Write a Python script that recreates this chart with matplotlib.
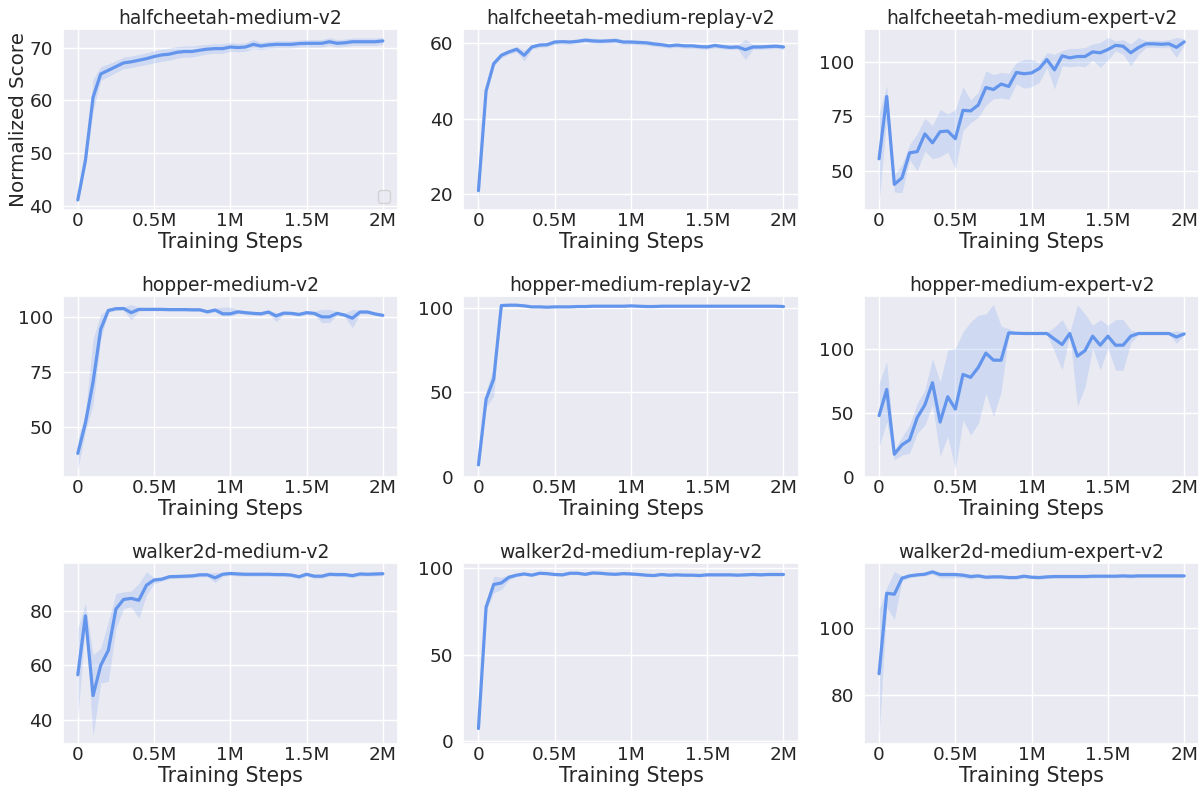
import numpy as np
import matplotlib
matplotlib.use("Agg")
import matplotlib.pyplot as plt
from matplotlib.ticker import MaxNLocator
import seaborn as sns

steps = np.arange(41) * 50000
xticks = [0, 500000, 1000000, 1500000, 2000000]
xticklabels = ["0", "0.5M", "1M", "1.5M", "2M"]

titles = ["halfcheetah-medium-v2", "halfcheetah-medium-replay-v2", "halfcheetah-medium-expert-v2",
          "hopper-medium-v2", "hopper-medium-replay-v2", "hopper-medium-expert-v2",
          "walker2d-medium-v2", "walker2d-medium-replay-v2", "walker2d-medium-expert-v2"]

hcm_mean = [41.2, 48.7, 60.6, 65.0, 65.7, 66.4, 67.1, 67.3, 67.6, 67.9, 68.3, 68.6, 68.75, 69.1, 69.25, 69.25, 69.5, 69.7, 69.8, 69.8, 70.1, 70.0, 70.1, 70.6, 70.3, 70.5, 70.6, 70.6, 70.6, 70.75, 70.8, 70.8, 70.8, 71.1, 70.8, 70.9, 71.1, 71.1, 71.1, 71.1, 71.25]
hcm_lo = [40.8, 47.5, 58.0, 63.8, 64.5, 65.3, 66.0, 66.2, 66.5, 66.8, 67.1, 67.4, 67.6, 68.0, 68.2, 68.2, 68.5, 68.8, 68.9, 68.9, 69.3, 69.2, 69.3, 69.8, 69.6, 69.8, 69.9, 69.9, 69.9, 70.1, 70.1, 70.1, 70.1, 70.4, 70.1, 70.2, 70.4, 70.4, 70.4, 70.4, 70.6]
hcm_hi = [41.6, 50.0, 64.0, 66.4, 66.9, 67.5, 68.2, 68.4, 68.7, 69.0, 69.4, 69.7, 69.9, 70.2, 70.3, 70.3, 70.5, 70.6, 70.7, 70.7, 70.9, 70.8, 70.9, 71.5, 71.0, 71.2, 71.3, 71.3, 71.3, 71.4, 71.5, 71.5, 71.5, 71.9, 71.5, 71.6, 71.8, 71.8, 71.8, 71.8, 71.9]

hcmr_mean = [21.0, 47.3, 54.5, 56.7, 57.6, 58.3, 56.7, 58.9, 59.4, 59.5, 60.2, 60.3, 60.2, 60.4, 60.7, 60.5, 60.4, 60.5, 60.6, 60.2, 60.2, 60.1, 60.0, 59.7, 59.5, 59.2, 59.4, 59.2, 59.2, 59.0, 58.9, 59.3, 59.0, 58.8, 58.9, 58.2, 58.9, 58.9, 59.0, 59.1, 58.9]
hcmr_lo = [18.0, 46.5, 53.8, 56.0, 57.0, 57.6, 55.2, 58.3, 58.8, 58.9, 59.6, 59.7, 59.6, 59.8, 60.0, 59.8, 59.7, 59.8, 59.9, 59.6, 59.6, 59.5, 59.4, 59.1, 58.9, 58.6, 58.8, 58.6, 58.6, 58.4, 58.3, 58.7, 58.4, 58.2, 58.3, 55.6, 58.3, 58.3, 58.4, 58.5, 58.3]
hcmr_hi = [22.0, 48.0, 55.2, 57.4, 58.2, 59.0, 58.0, 59.5, 60.0, 60.1, 60.8, 60.9, 60.8, 61.0, 61.4, 61.2, 61.1, 61.2, 61.3, 60.8, 60.8, 60.7, 60.6, 60.3, 60.1, 59.8, 60.0, 59.8, 59.8, 59.6, 59.5, 59.9, 59.6, 59.4, 59.5, 60.9, 59.5, 59.5, 59.6, 59.7, 59.5]

hcme_mean = [55.5, 84.0, 43.8, 46.8, 58.2, 58.8, 66.9, 62.8, 67.9, 68.2, 64.7, 77.7, 77.4, 80.1, 88.1, 87.2, 89.7, 88.6, 95.0, 94.4, 94.8, 96.8, 100.9, 96.2, 102.6, 101.7, 102.3, 102.3, 104.4, 104.0, 105.5, 107.4, 107.0, 104.0, 106.4, 108.1, 108.1, 107.9, 108.1, 106.5, 109.0]
hcme_lo = [35.7, 74.0, 40.3, 40.0, 55.0, 50.0, 59.0, 55.5, 56.5, 58.5, 51.0, 68.4, 72.0, 74.5, 80.0, 83.0, 83.3, 82.7, 89.7, 87.8, 88.5, 90.4, 97.3, 87.4, 98.0, 97.6, 98.0, 97.6, 100.6, 97.3, 100.6, 104.9, 103.3, 98.0, 103.3, 106.4, 106.5, 106.3, 106.5, 102.0, 107.5]
hcme_hi = [76.0, 89.0, 48.0, 53.0, 62.0, 67.0, 74.0, 70.7, 78.0, 76.0, 78.0, 88.4, 82.4, 86.0, 95.7, 94.0, 95.0, 94.5, 99.5, 101.0, 101.0, 99.5, 104.0, 103.3, 105.0, 106.0, 106.0, 106.4, 108.0, 108.7, 111.0, 109.4, 110.0, 108.0, 111.0, 109.5, 109.8, 109.6, 110.0, 111.0, 110.5]

hm_mean = [38.0, 51.8, 70.4, 94.3, 102.8, 103.6, 103.7, 101.8, 103.3, 103.3, 103.3, 103.3, 103.2, 103.2, 103.2, 103.1, 103.1, 102.2, 103.0, 101.3, 101.3, 102.2, 101.8, 101.5, 101.3, 102.1, 100.3, 101.6, 101.5, 101.0, 101.8, 101.5, 99.9, 99.9, 101.5, 100.7, 99.3, 102.1, 102.1, 101.2, 100.6]
hm_lo = [30.9, 48.0, 60.0, 89.9, 102.0, 102.8, 102.9, 98.4, 102.5, 102.6, 102.6, 102.6, 102.5, 102.5, 102.5, 102.4, 102.4, 101.4, 102.2, 100.3, 100.3, 101.4, 101.0, 100.7, 100.5, 101.3, 97.8, 100.8, 100.7, 100.2, 101.0, 100.7, 97.3, 97.3, 100.7, 99.9, 95.0, 101.3, 101.3, 100.4, 99.8]
hm_hi = [44.3, 56.3, 89.9, 101.0, 103.6, 104.4, 104.5, 105.5, 104.1, 104.0, 104.0, 104.0, 103.9, 103.9, 103.9, 103.8, 103.8, 103.0, 103.8, 104.3, 104.3, 103.0, 102.6, 102.3, 102.1, 102.9, 101.8, 102.4, 102.3, 101.8, 102.6, 102.3, 103.3, 103.3, 102.3, 101.5, 103.3, 102.9, 102.9, 102.0, 101.4]

hmr_mean = [7.0, 46.0, 58.0, 101.6, 101.8, 101.8, 101.4, 100.8, 100.8, 100.6, 100.8, 100.8, 100.8, 101.0, 101.0, 101.2, 101.2, 101.2, 101.2, 101.2, 101.4, 101.2, 101.0, 101.0, 101.2, 101.2, 101.2, 101.2, 101.2, 101.2, 101.2, 101.2, 101.2, 101.2, 101.2, 101.2, 101.2, 101.2, 101.2, 101.2, 101.0]
hmr_lo = [4.5, 41.0, 48.0, 101.2, 101.4, 101.4, 101.0, 100.4, 100.4, 100.2, 100.4, 100.4, 100.4, 100.6, 100.6, 100.8, 100.8, 100.8, 100.8, 100.8, 101.0, 100.8, 100.6, 100.6, 100.8, 100.8, 100.8, 100.8, 100.8, 100.8, 100.8, 100.8, 100.8, 100.8, 100.8, 100.8, 100.8, 100.8, 100.8, 100.8, 100.6]
hmr_hi = [9.0, 51.0, 65.0, 102.0, 102.2, 102.2, 101.8, 101.2, 101.2, 101.0, 101.2, 101.2, 101.2, 101.4, 101.4, 101.6, 101.6, 101.6, 101.6, 101.6, 101.8, 101.6, 101.4, 101.4, 101.6, 101.6, 101.6, 101.6, 101.6, 101.6, 101.6, 101.6, 101.6, 101.6, 101.6, 101.6, 101.6, 101.6, 101.6, 101.6, 101.4]

hme_mean = [47.7, 68.1, 17.6, 24.9, 28.8, 46.1, 56.0, 73.3, 42.7, 62.4, 52.8, 79.8, 77.5, 85.2, 96.4, 90.9, 90.9, 112.2, 111.9, 111.7, 111.7, 111.7, 111.7, 107.3, 103.1, 111.7, 94.0, 98.4, 109.6, 102.6, 109.6, 102.6, 102.6, 109.6, 111.7, 111.7, 111.7, 111.7, 111.7, 109.0, 111.4]
hme_lo = [23.6, 43.0, 13.2, 17.0, 18.4, 34.0, 40.4, 56.0, 16.3, 31.3, 6.0, 44.3, 32.6, 41.5, 65.0, 47.0, 66.3, 111.0, 111.0, 111.0, 111.0, 111.0, 111.0, 97.4, 83.2, 111.0, 55.0, 70.0, 100.5, 83.2, 100.5, 83.2, 83.2, 104.5, 111.0, 111.0, 111.0, 111.0, 111.0, 104.0, 110.5]
hme_hi = [72.8, 89.6, 21.0, 31.0, 40.4, 57.3, 67.6, 92.2, 74.0, 98.7, 100.0, 113.0, 120.7, 126.0, 127.0, 134.3, 117.4, 115.5, 112.5, 112.5, 112.5, 112.5, 112.5, 116.8, 122.5, 112.5, 134.0, 127.0, 118.0, 122.5, 118.0, 122.5, 122.5, 114.5, 112.5, 112.5, 112.5, 112.5, 112.5, 114.0, 112.3]

wm_mean = [56.6, 78.1, 49.0, 60.0, 65.5, 80.6, 84.1, 84.5, 83.8, 89.3, 91.2, 91.5, 92.4, 92.5, 92.6, 92.7, 93.1, 93.1, 92.0, 93.3, 93.6, 93.4, 93.3, 93.3, 93.3, 93.3, 93.2, 93.2, 93.0, 92.4, 93.3, 92.6, 92.6, 93.3, 93.2, 93.2, 92.8, 93.4, 93.3, 93.4, 93.5]
wm_lo = [40.8, 74.8, 34.2, 53.6, 54.2, 73.6, 80.8, 81.4, 77.2, 85.7, 89.9, 90.8, 91.7, 91.8, 91.9, 92.0, 92.4, 92.4, 90.3, 92.6, 92.9, 92.7, 92.6, 92.6, 92.6, 92.6, 92.5, 92.5, 92.3, 91.7, 92.6, 91.9, 91.9, 92.6, 92.5, 92.5, 92.1, 92.7, 92.6, 92.7, 92.8]
wm_hi = [73.6, 82.7, 63.9, 66.3, 76.0, 86.3, 86.9, 87.2, 89.9, 94.2, 92.1, 92.2, 93.1, 93.2, 93.3, 93.4, 93.8, 93.8, 93.9, 94.0, 94.3, 94.1, 94.0, 94.0, 94.0, 94.0, 93.9, 93.9, 93.7, 93.1, 94.0, 93.3, 93.3, 94.0, 93.9, 93.9, 93.5, 94.1, 94.0, 94.1, 94.2]

wmr_mean = [7.3, 77.3, 90.4, 91.3, 94.6, 95.8, 96.5, 95.8, 96.9, 96.7, 96.2, 96.0, 96.9, 96.9, 96.3, 97.1, 96.9, 96.5, 96.3, 96.7, 96.5, 96.2, 95.8, 95.6, 96.2, 95.8, 96.0, 95.8, 95.8, 95.6, 96.0, 96.0, 96.0, 96.0, 95.8, 96.0, 96.2, 96.0, 96.2, 96.2, 96.2]
wmr_lo = [2.9, 75.0, 85.6, 87.5, 93.1, 95.0, 95.7, 95.0, 96.1, 95.9, 95.4, 95.2, 96.1, 96.1, 95.5, 96.3, 96.1, 95.7, 95.5, 95.9, 95.7, 95.4, 95.0, 94.8, 95.4, 95.0, 95.2, 95.0, 95.0, 94.8, 95.2, 95.2, 95.2, 95.2, 95.0, 95.2, 95.4, 95.2, 95.4, 95.4, 95.4]
wmr_hi = [10.6, 79.8, 95.2, 94.6, 96.1, 96.6, 97.3, 96.6, 97.7, 97.5, 97.0, 96.8, 97.7, 97.7, 97.1, 97.9, 97.7, 97.3, 97.1, 97.5, 97.3, 97.0, 96.6, 96.4, 97.0, 96.6, 96.8, 96.6, 96.6, 96.4, 96.8, 96.8, 96.8, 96.8, 96.6, 96.8, 97.0, 96.8, 97.0, 97.0, 97.0]

wme_mean = [86.4, 110.5, 110.2, 115.0, 115.7, 116.0, 116.2, 116.9, 116.1, 116.1, 116.1, 115.9, 115.5, 115.7, 115.3, 115.4, 115.4, 115.2, 115.2, 115.6, 115.3, 115.2, 115.4, 115.5, 115.5, 115.5, 115.5, 115.5, 115.6, 115.6, 115.6, 115.6, 115.7, 115.6, 115.7, 115.7, 115.7, 115.7, 115.7, 115.7, 115.7]
wme_lo = [67.7, 106.2, 102.7, 114.2, 115.2, 115.5, 115.7, 116.3, 115.1, 115.1, 115.1, 115.2, 114.8, 115.2, 114.8, 114.9, 114.9, 114.7, 114.7, 115.1, 114.8, 114.7, 114.9, 115.0, 115.0, 115.0, 115.0, 115.0, 115.1, 115.1, 115.1, 115.1, 115.2, 115.1, 115.2, 115.2, 115.2, 115.2, 115.2, 115.2, 115.2]
wme_hi = [105.7, 112.2, 117.0, 115.7, 116.2, 116.5, 116.7, 116.9, 116.8, 116.8, 116.8, 116.6, 116.2, 116.2, 115.8, 115.9, 115.9, 115.7, 115.7, 116.1, 115.8, 115.7, 115.9, 116.0, 116.0, 116.0, 116.0, 116.0, 116.1, 116.1, 116.1, 116.1, 116.2, 116.1, 116.2, 116.2, 116.2, 116.2, 116.2, 116.2, 116.2]

series = [(hcm_mean, hcm_lo, hcm_hi), (hcmr_mean, hcmr_lo, hcmr_hi), (hcme_mean, hcme_lo, hcme_hi),
          (hm_mean, hm_lo, hm_hi), (hmr_mean, hmr_lo, hmr_hi), (hme_mean, hme_lo, hme_hi),
          (wm_mean, wm_lo, wm_hi), (wmr_mean, wmr_lo, wmr_hi), (wme_mean, wme_lo, wme_hi)]

sns.set_theme(style="darkgrid")
plt.rcParams["font.family"] = ["DejaVu Sans"]
color = "#6495ED"

fig, axes = plt.subplots(3, 3, figsize=(12.03, 7.91), dpi=100)
fig.subplots_adjust(left=0.052, right=0.997, top=0.963, bottom=0.059, wspace=0.194, hspace=0.475)

for i, ax in enumerate(axes.flat):
    mean, lo, hi = series[i]
    ax.fill_between(steps, lo, hi, color=color, alpha=0.2, linewidth=0)
    ax.plot(steps, mean, color=color, linewidth=2.3)
    ax.set_xticks(xticks)
    ax.set_xticklabels(xticklabels)
    ax.yaxis.set_major_locator(MaxNLocator(nbins=4, steps=[1, 2, 2.5, 5, 10]))
    ax.tick_params(axis="x", labelsize=13.3, length=0, pad=1.5)
    ax.tick_params(axis="y", labelsize=13.3, length=0, pad=7)
    ax.set_title(titles[i], fontsize=13.5, pad=4)
    ax.set_xlabel("Training Steps", fontsize=14.8, labelpad=1.5)
    ax.margins(x=0.05, y=0.05)

axes[0, 0].set_ylabel("Normalized Score", fontsize=14.3, labelpad=1)
axes[0, 0].legend(handles=[], loc="lower right")

fig.savefig("out.png", dpi=100)
